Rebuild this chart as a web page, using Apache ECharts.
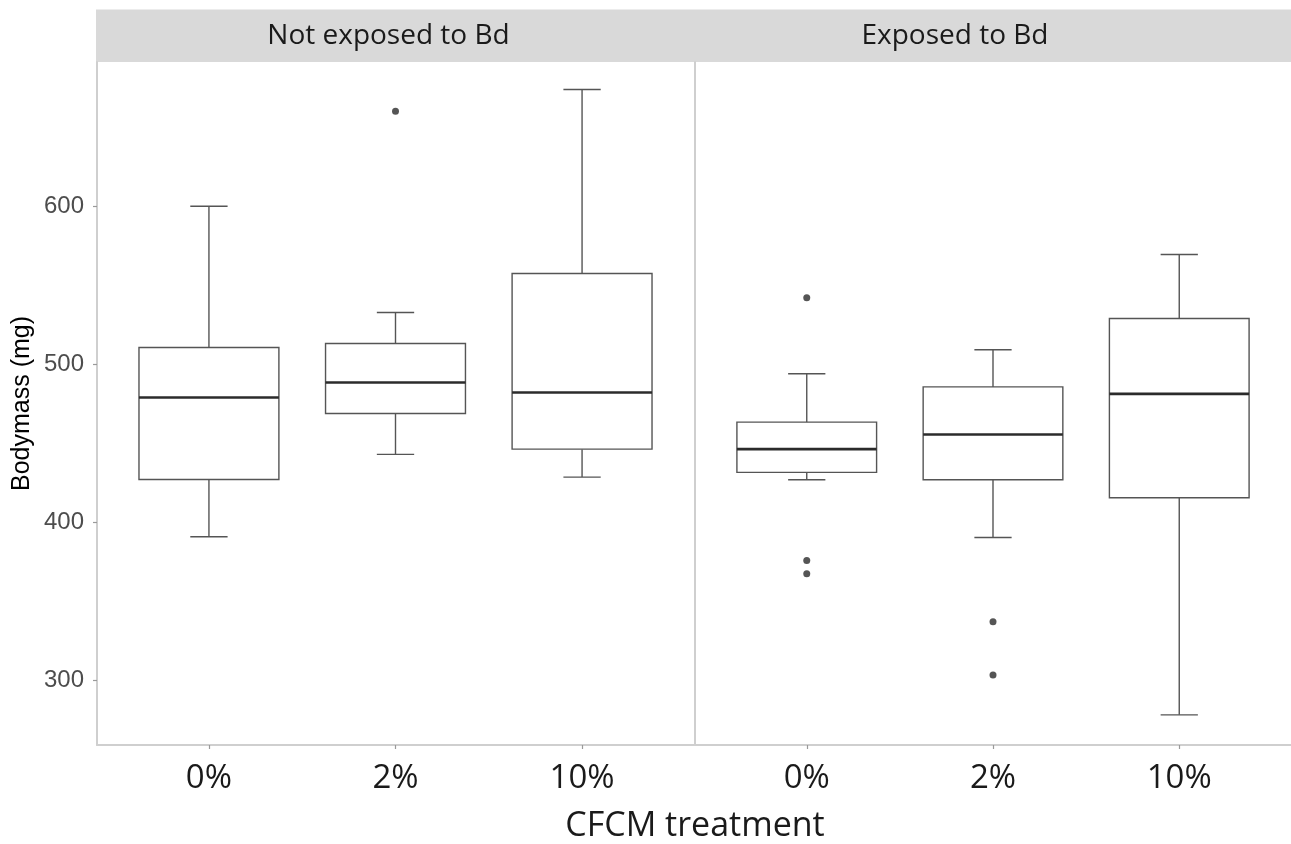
<!DOCTYPE html>
<html>
<head>
<meta charset="utf-8">
<script src="https://cdn.jsdelivr.net/npm/echarts@6/dist/echarts.min.js"></script>
<style>
html,body{margin:0;padding:0;background:#fff;}
#chart{width:1291px;height:844px;}
</style>
</head>
<body>
<div id="chart"></div>
<script>
// ---- data ----
const categories = ['0%', '2%', '10%'];
const panelTitles = ['Not exposed to Bd', 'Exposed to Bd'];
const yTicks = [300, 400, 500, 600];

// Not exposed to Bd
const notMin = [390.7, 442.9, 428.5];
const notQ1  = [427.0, 468.8, 446.2];
const notMed = [478.9, 488.4, 482.1];
const notQ3  = [510.6, 513.1, 557.4];
const notMax = [600.0, 532.7, 673.9];
const notOutCat = ['2%'];
const notOutVal = [660.1];

// Exposed to Bd
const expMin = [426.8, 390.3, 278.0];
const expQ1  = [431.5, 426.8, 415.4];
const expMed = [446.2, 455.5, 481.2];
const expQ3  = [463.3, 485.6, 528.9];
const expMax = [493.9, 509.1, 569.4];
const expOutCat = ['0%', '0%', '0%', '2%', '2%'];
const expOutVal = [542.0, 375.7, 367.3, 336.9, 303.2];

// ---- build series data ----
function boxData(mn, q1, md, q3, mx) {
  return categories.map((c, i) => [i + 1, mn[i], q1[i], md[i], q3[i], mx[i]]);
}
function outData(cats, vals) {
  return cats.map((c, i) => [categories.indexOf(c) + 1, vals[i]]);
}

const lineCol = '#555555';
const medCol = '#2b2b2b';
const axisCol = '#cfcfcf';

function renderBox(params, api) {
  const x = api.value(0);
  const lo = api.coord([x, api.value(1)]);
  const q1 = api.coord([x, api.value(2)]);
  const md = api.coord([x, api.value(3)]);
  const q3 = api.coord([x, api.value(4)]);
  const hi = api.coord([x, api.value(5)]);
  const bw = api.size([0.75, 0])[0];
  const cw = api.size([0.2, 0])[0];
  const cx = lo[0];
  const ls = { stroke: lineCol, lineWidth: 1.4, fill: null };
  return {
    type: 'group',
    children: [
      { type: 'line', shape: { x1: cx, y1: q1[1], x2: cx, y2: lo[1] }, style: ls },
      { type: 'line', shape: { x1: cx, y1: q3[1], x2: cx, y2: hi[1] }, style: ls },
      { type: 'line', shape: { x1: cx - cw / 2, y1: lo[1], x2: cx + cw / 2, y2: lo[1] }, style: ls },
      { type: 'line', shape: { x1: cx - cw / 2, y1: hi[1], x2: cx + cw / 2, y2: hi[1] }, style: ls },
      { type: 'rect', shape: { x: cx - bw / 2, y: q3[1], width: bw, height: q1[1] - q3[1] },
        style: { stroke: lineCol, lineWidth: 1.4, fill: '#ffffff' } },
      { type: 'line', shape: { x1: cx - bw / 2, y1: md[1], x2: cx + bw / 2, y2: md[1] },
        style: { stroke: medCol, lineWidth: 2.6 } }
    ]
  };
}

const chart = echarts.init(document.getElementById('chart'), null, { renderer: 'canvas' });

function xAxisCfg(gi) {
  return {
    type: 'value', gridIndex: gi, min: 0.4, max: 3.6,
    axisLine: { show: true, lineStyle: { color: axisCol, width: 2 } },
    axisTick: { show: true, length: 4, lineStyle: { color: '#9a9a9a', width: 1.2 }, customValues: [1, 2, 3] },
    axisLabel: {
      show: true, customValues: [1, 2, 3], margin: 17,
      formatter: v => categories[Math.round(v) - 1],
      fontFamily: 'Open Sans', fontSize: 33, color: '#1a1a1a'
    },
    splitLine: { show: false }
  };
}

const option = {
  backgroundColor: '#ffffff',
  animation: false,
  grid: [
    { left: 97, top: 62, width: 597, height: 683 },
    { left: 695, top: 62, width: 599, height: 683 }
  ],
  xAxis: [xAxisCfg(0), xAxisCfg(1)],
  yAxis: [
    {
      type: 'value', gridIndex: 0, min: 258.9, max: 691.3,
      name: 'Bodymass (mg)', nameLocation: 'middle', nameGap: 62, nameRotate: 90,
      nameTextStyle: { fontFamily: 'Liberation Sans', fontSize: 25, color: '#000000' },
      axisLine: { show: true, lineStyle: { color: axisCol, width: 2 } },
      axisTick: { show: true, length: 4, lineStyle: { color: '#9a9a9a', width: 1.2 }, customValues: yTicks },
      axisLabel: { show: true, customValues: yTicks, margin: 13, fontFamily: 'Liberation Sans', fontSize: 24, color: '#4d4d4d' },
      splitLine: { show: false }
    },
    {
      type: 'value', gridIndex: 1, min: 258.9, max: 691.3,
      axisLine: { show: true, lineStyle: { color: axisCol, width: 2 } },
      axisTick: { show: false },
      axisLabel: { show: false },
      splitLine: { show: false }
    }
  ],
  series: [
    {
      type: 'custom', name: panelTitles[0], xAxisIndex: 0, yAxisIndex: 0,
      renderItem: renderBox, encode: { x: 0, y: [1, 2, 3, 4, 5] },
      data: boxData(notMin, notQ1, notMed, notQ3, notMax), z: 3
    },
    {
      type: 'custom', name: panelTitles[1], xAxisIndex: 1, yAxisIndex: 1,
      renderItem: renderBox, encode: { x: 0, y: [1, 2, 3, 4, 5] },
      data: boxData(expMin, expQ1, expMed, expQ3, expMax), z: 3
    },
    {
      type: 'scatter', xAxisIndex: 0, yAxisIndex: 0, symbol: 'circle', symbolSize: 7,
      itemStyle: { color: '#2b2b2b' }, data: outData(notOutCat, notOutVal), z: 4
    },
    {
      type: 'scatter', xAxisIndex: 1, yAxisIndex: 1, symbol: 'circle', symbolSize: 7,
      itemStyle: { color: '#2b2b2b' }, data: outData(expOutCat, expOutVal), z: 4
    }
  ],
  graphic: [
    { type: 'rect', left: 96, top: 9.5, shape: { width: 599, height: 52.5 }, style: { fill: '#d9d9d9' }, silent: true },
    { type: 'rect', left: 695, top: 9.5, shape: { width: 600, height: 52.5 }, style: { fill: '#d9d9d9' }, silent: true },
    { type: 'text', x: 388.5, y: 36.5, style: { text: panelTitles[0], fontFamily: 'Open Sans', fontSize: 28, fill: '#1a1a1a', textAlign: 'center', textVerticalAlign: 'middle' } },
    { type: 'text', x: 955, y: 36.5, style: { text: panelTitles[1], fontFamily: 'Open Sans', fontSize: 28, fill: '#1a1a1a', textAlign: 'center', textVerticalAlign: 'middle' } },
    { type: 'text', x: 695, y: 826, style: { text: 'CFCM treatment', fontFamily: 'Open Sans', fontSize: 34, fill: '#1a1a1a', textAlign: 'center', textVerticalAlign: 'middle' } }
  ]
};
chart.setOption(option);
</script>
</body>
</html>
